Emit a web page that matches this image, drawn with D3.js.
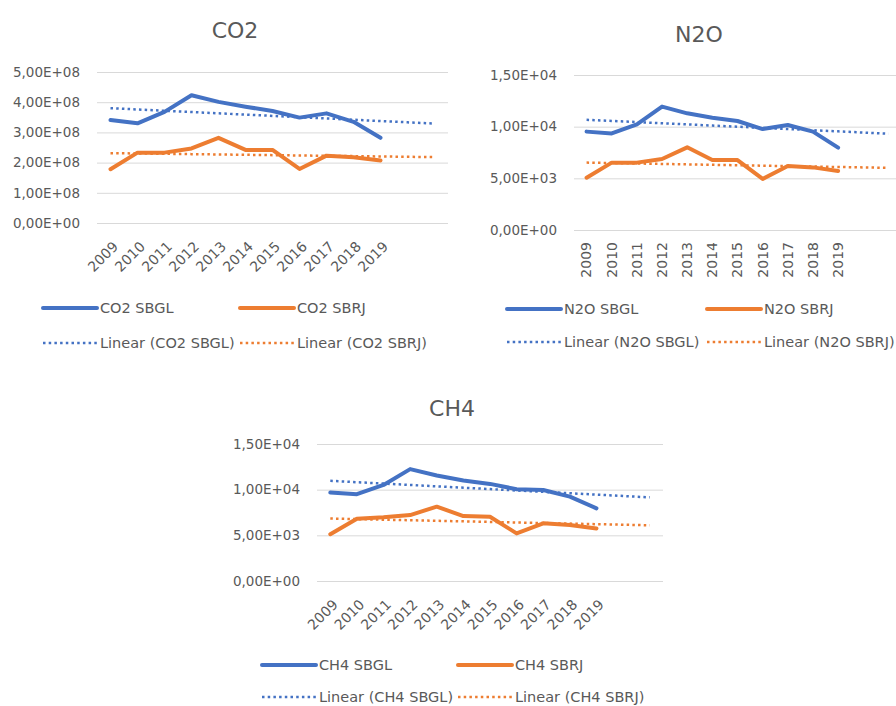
<!DOCTYPE html>
<html>
<head>
<meta charset="utf-8">
<script src="https://cdn.jsdelivr.net/npm/d3@7"></script>
<style>
  html, body { margin: 0; padding: 0; background: #fff; }
  svg { display: block; font-family: "DejaVu Sans", sans-serif; }
</style>
</head>
<body>
<svg id="chart" width="896" height="706"></svg>
<script>
// Years on the category axis
const years = ["2009","2010","2011","2012","2013","2014","2015","2016","2017","2018","2019"];
// Trendlines are projected two periods past the last year
const forecastPeriods = 2;

// Emissions per airport
const co2SBGL = [3.41e8, 3.30e8, 3.68e8, 4.23e8, 4.01e8, 3.85e8, 3.71e8, 3.49e8, 3.63e8, 3.35e8, 2.82e8];
const co2SBRJ = [1.78e8, 2.33e8, 2.33e8, 2.47e8, 2.82e8, 2.42e8, 2.42e8, 1.79e8, 2.23e8, 2.18e8, 2.07e8];
const n2oSBGL = [9520, 9350, 10230, 11940, 11290, 10870, 10550, 9770, 10160, 9520, 7970];
const n2oSBRJ = [5060, 6520, 6520, 6870, 8000, 6770, 6770, 4940, 6190, 6060, 5710];
const ch4SBGL = [9680, 9500, 10520, 12250, 11550, 11000, 10630, 10050, 9970, 9240, 7960];
const ch4SBRJ = [5130, 6820, 6970, 7220, 8140, 7110, 7040, 5210, 6310, 6120, 5760];

// Y-axis tick values
const co2Ticks = [0, 1e8, 2e8, 3e8, 4e8, 5e8];
const smallTicks = [0, 5000, 10000, 15000];

const BLUE = "#4472C4", ORANGE = "#ED7D31", GRID = "#D9D9D9", TEXT = "#595959";

// "5,00E+08" style scientific labels
function sci(v) {
  const [m, e] = v.toExponential(2).split("e");
  const n = Math.abs(+e);
  return m.replace(".", ",") + "E" + (+e < 0 ? "-" : "+") + (n < 10 ? "0" : "") + n;
}

// Least-squares line over the category index
function linearFit(vals) {
  const n = vals.length;
  const xs = d3.range(n);
  const mx = d3.mean(xs), my = d3.mean(vals);
  const sxy = d3.sum(xs, (x, i) => (x - mx) * (vals[i] - my));
  const sxx = d3.sum(xs, x => (x - mx) * (x - mx));
  const b = sxy / sxx;
  return x => my + b * (x - mx);
}

const svg = d3.select("#chart");

function drawChart(cfg) {
  const g = svg.append("g");
  const nCat = years.length + forecastPeriods;
  const x = d3.scaleBand().domain(d3.range(nCat)).range([cfg.left, cfg.right]);
  const y = d3.scaleLinear().domain([0, d3.max(cfg.ticks)]).range([cfg.bottom, cfg.top]);
  const cx = i => x(i) + x.bandwidth() / 2;

  // title
  g.append("text")
    .attr("x", cfg.titleX).attr("y", cfg.titleY)
    .attr("text-anchor", "middle")
    .attr("fill", TEXT).attr("font-size", 22)
    .text(cfg.title);

  // gridlines + tick labels
  const yAxis = d3.axisLeft(y).tickValues(cfg.ticks).tickFormat(sci)
    .tickSize(-(cfg.right - cfg.left)).tickPadding(17);
  const ay = g.append("g").attr("transform", `translate(${cfg.left},0)`).call(yAxis);
  ay.select(".domain").remove();
  ay.selectAll(".tick line").attr("stroke", GRID).attr("stroke-width", 1);
  ay.selectAll(".tick text").attr("fill", TEXT).attr("font-size", 13.5)
    .attr("font-family", "DejaVu Sans, sans-serif");

  // year labels
  const xl = g.append("g");
  years.forEach((yr, i) => {
    const t = xl.append("text")
      .attr("fill", TEXT).attr("font-size", 14)
      .attr("text-anchor", "end").attr("dy", "0.35em")
      .text(yr);
    if (cfg.vertical) {
      t.attr("transform", `translate(${cx(i)},${cfg.bottom + 12}) rotate(-90)`);
    } else {
      t.attr("transform", `translate(${cx(i) + 5},${cfg.bottom + 21}) rotate(-45)`);
    }
  });

  const line = d3.line().x((d, i) => cx(i)).y(d => y(d));

  // trendlines
  cfg.series.forEach(s => {
    const f = linearFit(s.values);
    const pts = d3.range(nCat).map(i => f(i));
    g.append("path").datum(pts)
      .attr("d", line)
      .attr("fill", "none").attr("stroke", s.color)
      .attr("stroke-width", 2.5).attr("stroke-dasharray", "2.5,3.2");
  });

  // data lines
  cfg.series.forEach(s => {
    g.append("path").datum(s.values)
      .attr("d", line)
      .attr("fill", "none").attr("stroke", s.color)
      .attr("stroke-width", 4).attr("stroke-linejoin", "round").attr("stroke-linecap", "round");
  });

  // legend
  const lg = g.append("g").attr("font-size", 14.5).attr("fill", TEXT);
  cfg.series.forEach((s, k) => {
    const lx = cfg.legendX[k];
    lg.append("line")
      .attr("x1", lx).attr("x2", lx + 54).attr("y1", cfg.legendY[0]).attr("y2", cfg.legendY[0])
      .attr("stroke", s.color).attr("stroke-width", 4).attr("stroke-linecap", "round");
    lg.append("text").attr("x", lx + 57).attr("y", cfg.legendY[0]).attr("dy", "0.35em").text(s.name);
    lg.append("line")
      .attr("x1", lx).attr("x2", lx + 54).attr("y1", cfg.legendY[1]).attr("y2", cfg.legendY[1])
      .attr("stroke", s.color).attr("stroke-width", 2.5).attr("stroke-dasharray", "2.5,3.2");
    lg.append("text").attr("x", lx + 57).attr("y", cfg.legendY[1]).attr("dy", "0.35em")
      .text(`Linear (${s.name})`);
  });
}

drawChart({
  title: "CO2", titleX: 235, titleY: 38,
  left: 97, right: 448, top: 72, bottom: 223,
  ticks: co2Ticks, vertical: false,
  series: [
    { name: "CO2 SBGL", values: co2SBGL, color: BLUE },
    { name: "CO2 SBRJ", values: co2SBRJ, color: ORANGE }
  ],
  legendX: [43, 240], legendY: [308, 343]
});

drawChart({
  title: "N2O", titleX: 699, titleY: 42,
  left: 574, right: 901, top: 75, bottom: 230,
  ticks: smallTicks, vertical: true,
  series: [
    { name: "N2O SBGL", values: n2oSBGL, color: BLUE },
    { name: "N2O SBRJ", values: n2oSBRJ, color: ORANGE }
  ],
  legendX: [507, 707], legendY: [309, 342]
});

drawChart({
  title: "CH4", titleX: 452, titleY: 416,
  left: 317, right: 663, top: 444, bottom: 581,
  ticks: smallTicks, vertical: false,
  series: [
    { name: "CH4 SBGL", values: ch4SBGL, color: BLUE },
    { name: "CH4 SBRJ", values: ch4SBRJ, color: ORANGE }
  ],
  legendX: [262, 458], legendY: [665, 697]
});
</script>
</body>
</html>
